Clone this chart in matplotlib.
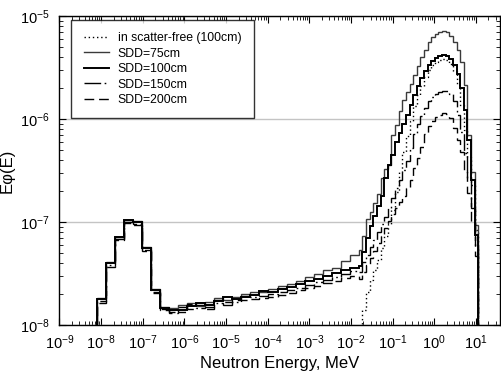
import numpy as np
import matplotlib
matplotlib.use("Agg")
import matplotlib.pyplot as plt
from matplotlib.ticker import LogLocator, NullFormatter

plt.rcParams['font.family'] = ['Liberation Sans', 'DejaVu Sans']
plt.rcParams['mathtext.default'] = 'regular'

# ---- energy group structure (log10 MeV) ----
coarse_edges_log = -8.106 + 0.2171 * np.arange(30)     # 29 coarse bins
fine_edges_log = -1.81 + 0.0869 * np.arange(34)        # 33 fine bins

# ---- series values: E*phi(E) per bin ----
sdd75_coarse = [1.83e-8, 4.1e-8, 7.15e-8, 1.045e-7, 1.02e-7, 5.72e-8, 2.24e-8, 1.49e-8, 1.46e-8,
                1.56e-8, 1.63e-8, 1.53e-8, 1.67e-8, 1.83e-8, 1.75e-8, 1.87e-8, 2.0e-8, 2.09e-8,
                2.09e-8, 2.24e-8, 2.39e-8, 2.5e-8, 2.68e-8, 2.93e-8, 3.13e-8, 3.42e-8, 3.6e-8,
                4.2e-8, 4.78e-8]
sdd75_fine = [5.35e-8, 7.3e-8, 1.07e-7, 1.25e-7, 1.53e-7, 1.87e-7, 2.67e-7, 3.3e-7, 3.57e-7,
              6.99e-7, 8.74e-7, 1.19e-6, 1.53e-6, 1.83e-6, 2.19e-6, 2.67e-6, 3.27e-6, 4.0e-6,
              4.67e-6, 5.6e-6, 6.25e-6, 6.7e-6, 7.0e-6, 7.15e-6, 7.0e-6, 6.4e-6, 5.6e-6,
              4.67e-6, 3.57e-6, 2.14e-6, 6.99e-7, 3.07e-7, 9.35e-8]

sdd100_coarse = [1.79e-8, 4.0e-8, 7.15e-8, 1.045e-7, 1.0e-7, 5.6e-8, 2.19e-8, 1.46e-8, 1.40e-8,
                 1.40e-8, 1.53e-8, 1.63e-8, 1.56e-8, 1.71e-8, 1.87e-8, 1.79e-8, 1.87e-8, 1.95e-8,
                 2.14e-8, 2.09e-8, 2.24e-8, 2.34e-8, 2.5e-8, 2.68e-8, 2.8e-8, 2.99e-8, 3.2e-8,
                 3.42e-8, 3.6e-8]
sdd100_fine = [3.73e-8, 5.1e-8, 7.0e-8, 9.15e-8, 1.14e-7, 1.43e-7, 1.79e-7, 2.67e-7, 3.57e-7,
               4.47e-7, 6.0e-7, 7.3e-7, 8.93e-7, 1.09e-6, 1.37e-6, 1.71e-6, 2.09e-6, 2.5e-6,
               2.93e-6, 3.34e-6, 3.65e-6, 3.91e-6, 4.09e-6, 4.18e-6, 4.09e-6, 3.82e-6, 3.34e-6,
               2.74e-6, 2.0e-6, 1.22e-6, 6.25e-7, 2.56e-7, 7.48e-8]

scatter_free_fine = [0.0, 1.40e-8, 2.09e-8, 2.73e-8, 3.42e-8, 4.28e-8, 5.6e-8, 7.3e-8, 9.6e-8,
                     1.31e-7, 1.96e-7, 3.07e-7, 4.8e-7, 6.8e-7, 9.6e-7, 1.34e-6, 1.71e-6, 2.09e-6,
                     2.56e-6, 2.99e-6, 3.34e-6, 3.57e-6, 3.74e-6, 3.82e-6, 3.74e-6, 3.42e-6, 2.93e-6,
                     2.14e-6, 1.37e-6, 7.82e-7, 4.3e-7, 2.29e-7, 8.36e-8]

sdd150_coarse = [1.71e-8, 3.83e-8, 6.82e-8, 1.0e-7, 9.55e-8, 5.35e-8, 2.09e-8, 1.43e-8, 1.33e-8,
                 1.49e-8, 1.43e-8, 1.46e-8, 1.49e-8, 1.63e-8, 1.56e-8, 1.67e-8, 1.91e-8, 1.87e-8,
                 1.91e-8, 2.0e-8, 2.09e-8, 2.19e-8, 2.29e-8, 2.45e-8, 2.62e-8, 2.73e-8, 2.93e-8,
                 3.13e-8, 3.35e-8]
sdd150_fine = [3.27e-8, 4.1e-8, 4.78e-8, 5.72e-8, 6.68e-8, 8.0e-8, 9.6e-8, 1.12e-7, 1.37e-7,
               1.71e-7, 2.14e-7, 2.56e-7, 3.2e-7, 3.93e-7, 5.24e-7, 7.15e-7, 8.93e-7, 1.07e-6,
               1.28e-6, 1.49e-6, 1.63e-6, 1.75e-6, 1.83e-6, 1.87e-6, 1.87e-6, 1.75e-6, 1.49e-6,
               1.09e-6, 7.48e-7, 4.7e-7, 2.67e-7, 1.37e-7, 5.98e-8]

sdd200_coarse = [1.63e-8, 3.66e-8, 6.68e-8, 9.77e-8, 9.35e-8, 5.22e-8, 2.05e-8, 1.40e-8, 1.31e-8,
                 1.33e-8, 1.60e-8, 1.56e-8, 1.43e-8, 1.75e-8, 1.67e-8, 1.75e-8, 1.75e-8, 1.79e-8,
                 1.83e-8, 1.87e-8, 1.95e-8, 2.05e-8, 2.19e-8, 2.29e-8, 2.39e-8, 2.56e-8, 2.68e-8,
                 2.86e-8, 2.99e-8]
sdd200_fine = [2.8e-8, 3.27e-8, 3.83e-8, 4.48e-8, 5.24e-8, 6.25e-8, 7.3e-8, 8.75e-8, 1.02e-7,
               1.2e-7, 1.37e-7, 1.56e-7, 1.79e-7, 2.14e-7, 2.56e-7, 3.38e-7, 4.18e-7, 5.35e-7,
               7.15e-7, 8.55e-7, 9.6e-7, 1.05e-6, 1.09e-6, 1.14e-6, 1.12e-6, 1.02e-6, 8.16e-7,
               6.25e-7, 4.8e-7, 3.2e-7, 1.93e-7, 1.0e-7, 4.7e-8]

labels = ["in scatter-free (100cm)", "SDD=75cm", "SDD=100cm", "SDD=150cm", "SDD=200cm"]
xtick_exps = list(range(-9, 2))

# ---- build full bins ----
edges_log = np.concatenate([coarse_edges_log, fine_edges_log[1:]])
TINY = 1e-12

def full_stairs(coarse, fine):
    vals = np.array(list(coarse) + list(fine), dtype=float)
    vals = np.where(vals > 0, vals, TINY)
    e = np.concatenate([[edges_log[0] - 0.2], edges_log, [edges_log[-1] + 0.2]])
    v = np.concatenate([[TINY], vals, [TINY]])
    return v, 10 ** e

fig = plt.figure(figsize=(5.02, 3.73), dpi=100)
ax = fig.add_axes([0.1185, 0.1287, 0.997 - 0.1185, 0.957 - 0.1287])

styles = [
    (np.full(29, 0.0), scatter_free_fine, dict(color='black', lw=1.0, ls=(0, (1, 2)))),
    (sdd75_coarse, sdd75_fine, dict(color='#3a3a3a', lw=1.0, ls='-')),
    (sdd100_coarse, sdd100_fine, dict(color='black', lw=1.4, ls='-')),
    (sdd150_coarse, sdd150_fine, dict(color='black', lw=1.0, ls=(0, (12, 2.5, 1.2, 2.5)))),
    (sdd200_coarse, sdd200_fine, dict(color='black', lw=1.0, ls=(0, (7, 3.5)))),
]
handles = []
for (c, f, st), lab in zip(styles, labels):
    v, e = full_stairs(c, f)
    h = ax.stairs(v, e, baseline=None, color=st['color'], linewidth=st['lw'],
                  linestyle=st['ls'], label=lab)
    handles.append(h)

ax.set_xscale('log')
ax.set_yscale('log')
ax.set_xlim(1e-9, 39)
ax.set_ylim(1e-8, 1e-5)

ax.set_xticks([10.0 ** k for k in xtick_exps])
ax.set_xticklabels([r'$10^{%d}$' % k for k in xtick_exps])
ax.xaxis.set_minor_locator(LogLocator(base=10, subs=np.arange(2, 10), numticks=30))
ax.xaxis.set_minor_formatter(NullFormatter())
ax.yaxis.set_minor_locator(LogLocator(base=10, subs=np.arange(2, 10), numticks=30))
ax.yaxis.set_minor_formatter(NullFormatter())

ax.tick_params(which='both', direction='in', top=True, right=True, labelsize=10.5)
ax.tick_params(which='major', length=5, width=0.8)
ax.tick_params(which='minor', length=3, width=0.6)
ax.tick_params(axis='x', which='major', pad=6)
ax.tick_params(axis='y', which='major', pad=7)

ax.yaxis.grid(True, which='major', color='#c4c4c4', lw=1.0)
ax.set_axisbelow(True)
for s in ax.spines.values():
    s.set_linewidth(1.0)

ax.set_xlabel('Neutron Energy, MeV', fontsize=12, labelpad=3)
ax.set_ylabel('E\u03c6(E)', fontsize=12, labelpad=4)

leg = ax.legend(handles=handles, loc='upper left', bbox_to_anchor=(0.027, 0.987),
                borderaxespad=0, fontsize=8.8, frameon=True, fancybox=False,
                edgecolor='black', handlelength=2.1, handletextpad=0.7,
                labelspacing=0.28, borderpad=1.0)
leg.get_frame().set_linewidth(1.0)

fig.savefig('out.png', dpi=100)
